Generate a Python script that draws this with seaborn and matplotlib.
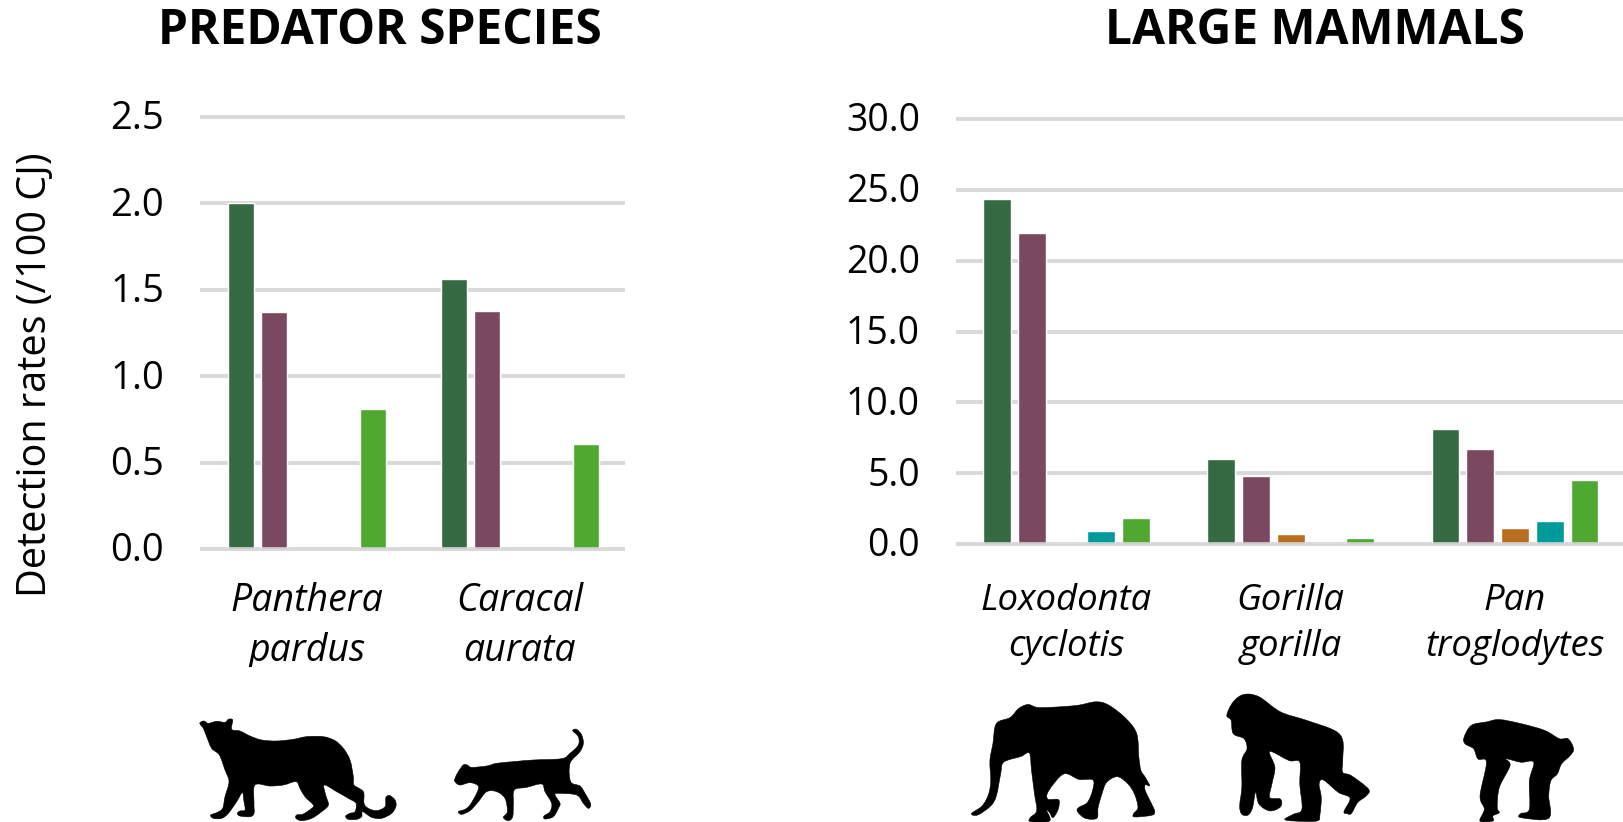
import matplotlib
matplotlib.use("Agg")
import matplotlib.pyplot as plt
from matplotlib.patches import PathPatch
from matplotlib.path import Path
from matplotlib.transforms import Bbox, ScaledTranslation
import pandas as pd
import seaborn as sns

# ---- data ----
series = ["Series 1", "Series 2", "Series 3", "Series 4", "Series 5"]
colors = ["#366A43", "#7A4860", "#B96E20", "#009A9A", "#4FA82F"]

predator_species = ["Panthera\npardus", "Caracal\naurata"]
pred_s1 = [2.0, 1.56]
pred_s2 = [1.37, 1.38]
pred_s3 = [None, None]
pred_s4 = [None, None]
pred_s5 = [0.81, 0.61]
pred_ticks = [0.0, 0.5, 1.0, 1.5, 2.0, 2.5]

mammal_species = ["Loxodonta\ncyclotis", "Gorilla\ngorilla", "Pan\ntroglodytes"]
mam_s1 = [24.35, 6.0, 8.1]
mam_s2 = [21.95, 4.8, 6.7]
mam_s3 = [0.1, 0.7, 1.1]
mam_s4 = [0.9, 0.1, 1.6]
mam_s5 = [1.85, 0.4, 4.5]
mam_ticks = [0.0, 5.0, 10.0, 15.0, 20.0, 25.0, 30.0]

title_left = "PREDATOR SPECIES"
title_right = "LARGE MAMMALS"
ylabel = "Detection rates (/100 CJ)"

W, H = 1624, 822
GRID = "#D9D9D9"

sns.set_theme(style="white")
plt.rcParams["font.family"] = ["Open Sans", "DejaVu Sans"]


def tidy(cats, columns):
    rows = []
    for name, vals in zip(series, columns):
        for c, v in zip(cats, vals):
            rows.append({"species": c, "series": name, "rate": v})
    return pd.DataFrame(rows)


def px_axes(fig, x0, x1, ytop, ybot):
    return fig.add_axes([x0 / W, 1 - ybot / H, (x1 - x0) / W, (ybot - ytop) / H])


def panel(fig, ax, cats, columns, ticks, ysize, xsize, xpad, spacing, shift):
    df = tidy(cats, columns)
    df["rate"] = pd.to_numeric(df["rate"])
    sns.barplot(data=df, x="species", y="rate", hue="series", order=cats, hue_order=series,
                palette=colors, saturation=1, width=0.775, gap=0.2, legend=False, ax=ax)
    ax.set_ylim(ticks[0], ticks[-1])
    ax.set_xlim(-0.5 + shift, len(cats) - 0.5 + shift)
    ax.set_yticks(ticks)
    ax.set_yticklabels([f"{t:.1f}" for t in ticks])
    ax.set_xlabel("")
    ax.set_ylabel("")
    ax.grid(axis="y", color=GRID, lw=2.8, clip_on=False, solid_capstyle="butt")
    ax.grid(axis="x", visible=False)
    ax.set_axisbelow(True)
    for s in ["top", "left", "right"]:
        ax.spines[s].set_visible(False)
    ax.spines["bottom"].set_color(GRID)
    ax.spines["bottom"].set_linewidth(2.8)
    ax.spines["bottom"].set_capstyle("butt")
    ax.spines["bottom"].set_alpha(0.85)
    ax.tick_params(axis="y", length=0, pad=26, labelsize=ysize, labelcolor="black")
    ax.tick_params(axis="x", length=0, pad=xpad, labelsize=xsize, labelcolor="black")
    up = ScaledTranslation(0, 1.5 / 72, fig.dpi_scale_trans)
    for lab in ax.get_yticklabels():
        lab.set_transform(lab.get_transform() + up)
    for lab in ax.get_xticklabels():
        lab.set_fontstyle("italic")
        lab.set_linespacing(spacing)
    ax.patch.set_alpha(0)


fig = plt.figure(figsize=(W / 100, H / 100), dpi=100, facecolor="white")

ax1 = px_axes(fig, 200, 625.5, 117, 549)
panel(fig, ax1, predator_species, [pred_s1, pred_s2, pred_s3, pred_s4, pred_s5], pred_ticks,
      27.5, 27, 24, 1.4, -0.004)
ax2 = px_axes(fig, 956, 1629, 119, 544)
panel(fig, ax2, mammal_species, [mam_s1, mam_s2, mam_s3, mam_s4, mam_s5], mam_ticks,
      27, 26.3, 28, 1.36, 0.008)

# the left panel's second label line is cut off at the bottom in the reference
for lab in ax1.get_xticklabels():
    lab.set_clip_box(Bbox([[0, H - 667], [W, H]]))
    lab.set_clip_on(True)

fig.text(36 / W, 1 - 375 / H, ylabel, rotation=90, ha="center", va="center",
         fontsize=28.5, color="black")
fig.text(380 / W, 1 - 31 / H, title_left, ha="center", va="center",
         fontsize=34.5, fontweight="bold", color="black")
fig.text(1315 / W, 1 - 31 / H, title_right, ha="center", va="center",
         fontsize=34.5, fontweight="bold", color="black")

# ---- decorative silhouettes (traced outlines, not data) ----
leopard = [(60,128),(72,123),(85,130),(110,124),(135,127),(145,118),(158,120),(155,148),(180,153),(210,168),(245,180),(290,183),(340,178),(380,170),(430,170),(465,182),(490,205),(510,240),(520,290),(522,315),(550,335),(552,370),(565,385),(590,392),(615,380),(618,352),(630,347),(645,360),(648,378),(635,400),(605,415),(575,412),(548,395),(545,410),(530,418),(505,418),(497,408),(510,400),(525,395),(528,370),(505,355),(470,335),(433,315),(437,345),(445,375),(425,395),(395,415),(365,422),(348,415),(350,405),(370,402),(395,385),(400,375),(375,350),(360,325),(348,305),(310,315),(270,318),(225,315),(222,370),(222,400),(210,410),(180,408),(172,400),(180,393),(195,390),(192,365),(187,338),(170,365),(145,400),(125,415),(100,415),(92,405),(110,398),(128,385),(135,350),(147,305),(135,270),(118,225),(95,205),(80,170),(70,145),(62,135)]
cat = [(825,295),(835,275),(850,255),(862,255),(875,262),(920,258),(950,250),(1000,245),(1060,240),(1145,236),(1170,220),(1195,195),(1195,170),(1178,152),(1190,148),(1205,165),(1210,190),(1200,215),(1170,250),(1172,305),(1200,318),(1215,340),(1232,372),(1225,385),(1210,370),(1190,345),(1135,340),(1125,345),(1140,370),(1135,385),(1120,410),(1095,417),(1092,408),(1110,395),(1115,370),(1095,335),(1085,312),(1040,322),(1003,330),(1000,370),(998,410),(985,422),(970,412),(982,395),(975,355),(950,335),(920,335),(895,365),(870,392),(845,403),(835,395),(855,388),(870,375),(890,340),(895,318),(870,308),(840,315),(825,305)]
elephant = [(50,398),(75,375),(90,340),(95,300),(93,240),(100,190),(108,130),(140,112),(160,85),(182,73),(205,82),(255,80),(300,75),(340,65),(370,75),(410,115),(435,160),(440,230),(445,270),(455,290),(465,315),(455,312),(455,330),(470,370),(477,392),(470,403),(430,408),(428,398),(438,380),(430,340),(415,310),(390,288),(365,305),(355,335),(345,380),(342,412),(315,412),(297,392),(300,380),(320,365),(332,330),(333,298),(300,296),(265,280),(230,330),(228,355),(253,357),(252,385),(240,410),(232,395),(225,388),(232,420),(188,422),(187,410),(202,390),(197,340),(190,270),(185,218),(165,228),(125,245),(118,280),(108,345),(95,375),(65,402)]
gorilla = [(645,105),(660,65),(685,43),(720,50),(770,95),(830,120),(895,150),(915,180),(915,240),(915,275),(935,285),(975,325),(970,345),(950,365),(935,398),(925,398),(918,392),(932,352),(905,335),(870,298),(860,310),(865,350),(862,400),(855,420),(800,420),(780,415),(800,400),(820,385),(815,310),(815,245),(790,240),(745,213),(757,260),(750,310),(745,350),(770,355),(770,378),(745,390),(720,370),(712,335),(705,380),(695,402),(680,400),(675,375),(680,320),(680,240),(692,205),(685,175),(660,160),(655,120)]
chimp = [(1198,170),(1215,135),(1250,125),(1280,118),(1330,130),(1385,150),(1420,175),(1440,175),(1453,205),(1445,225),(1425,250),(1415,280),(1400,300),(1395,345),(1395,412),(1330,410),(1330,398),(1350,385),(1350,300),(1360,245),(1330,245),(1295,235),(1305,255),(1280,320),(1275,380),(1280,395),(1265,405),(1265,420),(1235,420),(1245,385),(1235,345),(1250,245),(1230,235),(1220,205),(1200,190)]


def silhouette(points, ox, oy, sx, sy):
    # closed Catmull-Rom spline through the traced points, so the outline is rounded
    p = [((ox + x / sx) / W, 1 - (oy + y / sy) / H) for x, y in points]
    n = len(p)
    verts, codes = [p[0]], [Path.MOVETO]
    for i in range(n):
        p0, p1, p2, p3 = p[i - 1], p[i], p[(i + 1) % n], p[(i + 2) % n]
        verts += [(p1[0] + (p2[0] - p0[0]) / 6, p1[1] + (p2[1] - p0[1]) / 6),
                  (p2[0] - (p3[0] - p1[0]) / 6, p2[1] - (p3[1] - p1[1]) / 6),
                  p2]
        codes += [Path.CURVE4] * 3
    fig.add_artist(PathPatch(Path(verts, codes), facecolor="black", edgecolor="black", lw=0.4,
                             transform=fig.transFigure))


for shape in (leopard, cat):
    silhouette(shape, 180, 680, 3.0, 3.0)
for shape in (elephant, gorilla, chimp):
    silhouette(shape, 950, 680, 2.33, 2.98)

fig.savefig("out.png", dpi=100, facecolor="white")
